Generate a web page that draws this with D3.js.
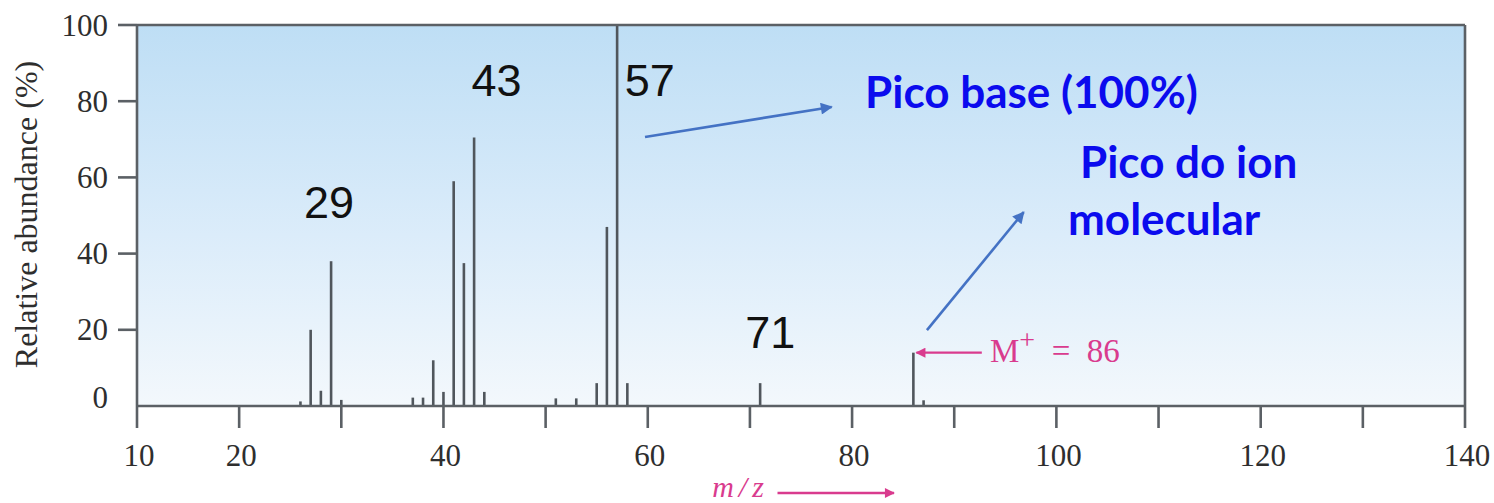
<!DOCTYPE html>
<html>
<head>
<meta charset="utf-8">
<script src="https://cdn.jsdelivr.net/npm/d3@7"></script>
<style>
body { margin: 0; background: #fff; }
</style>
</head>
<body>
<script>
// spectrum peaks (m/z and relative abundance in %)
var mz        = [26, 27, 28, 29, 30, 37, 38, 39, 40, 41, 42, 43, 44, 51, 53, 55, 56, 57, 58, 71, 86, 87];
var abundance = [1.2, 20, 4, 38, 1.6, 2.2, 2.2, 12, 3.7, 59, 37.5, 70.5, 3.7, 2, 2, 6, 47, 100, 6, 6, 14, 1.5];

// axis ticks
var xTicks  = d3.range(10, 141, 10);
var xLabels = [10, 20, 40, 60, 80, 100, 120, 140];
var yTicks  = [0, 20, 40, 60, 80, 100];

// peak number labels (placed in data units)
var peakText = ["29", "43", "57", "71"];
var peakX    = [28.8, 45.2, 60.2, 72.0];
var peakY    = [49.3, 81.4, 81.4, 15.2];

var width = 1494, height = 503;
var margin = {top: 25, right: 29, bottom: 97, left: 137};

var svg = d3.select("body").append("svg")
    .attr("width", width)
    .attr("height", height);

var x = d3.scaleLinear()
    .domain([10, 140])
    .range([margin.left, width - margin.right]);

var y = d3.scaleLinear()
    .domain([0, 100])
    .range([height - margin.bottom, margin.top]);

var axisCol = "#5b6065";
var pink = "#d93b8e";
var blue = "#4472c4";

// background gradient
var defs = svg.append("defs");
var grad = defs.append("linearGradient")
    .attr("id", "bg")
    .attr("x1", 0).attr("y1", 0).attr("x2", 0).attr("y2", 1);
grad.append("stop").attr("offset", "0%").attr("stop-color", "#bedef5");
grad.append("stop").attr("offset", "55%").attr("stop-color", "#dbecfa");
grad.append("stop").attr("offset", "100%").attr("stop-color", "#f3f8fc");

function marker(id, col, w, h) {
    defs.append("marker")
        .attr("id", id)
        .attr("viewBox", "0 0 10 10")
        .attr("refX", 9).attr("refY", 5)
        .attr("markerWidth", w).attr("markerHeight", h)
        .attr("markerUnits", "userSpaceOnUse")
        .attr("orient", "auto")
        .append("path")
        .attr("d", "M0,0 L10,5 L0,10 z")
        .attr("fill", col);
}
marker("arrBlue", blue, 15, 12);
marker("arrPink", pink, 11, 10);

svg.append("rect")
    .attr("x", x(10))
    .attr("y", y(100))
    .attr("width", x(140) - x(10))
    .attr("height", y(0) - y(100))
    .attr("fill", "url(#bg)");

// bars
svg.selectAll(".bar")
    .data(mz)
    .enter().append("line")
    .attr("class", "bar")
    .attr("x1", function (d) { return x(d); })
    .attr("x2", function (d) { return x(d); })
    .attr("y1", y(0))
    .attr("y2", function (d, i) { return y(abundance[i]); })
    .attr("stroke", "#50565c")
    .attr("stroke-width", 2.6);

// frame
var frame = svg.append("g")
    .attr("stroke", axisCol)
    .attr("stroke-width", 2.6)
    .attr("fill", "none");
frame.append("line").attr("x1", x(10)).attr("x2", x(140)).attr("y1", y(100)).attr("y2", y(100));
frame.append("line").attr("x1", x(140)).attr("x2", x(140)).attr("y1", y(100)).attr("y2", y(0));
frame.append("line").attr("x1", x(10)).attr("x2", x(10)).attr("y1", y(100)).attr("y2", y(0));
frame.append("line").attr("x1", x(10)).attr("x2", x(140)).attr("y1", y(0)).attr("y2", y(0));

// x axis ticks
svg.selectAll(".xtick")
    .data(xTicks)
    .enter().append("line")
    .attr("class", "xtick")
    .attr("x1", function (d) { return x(d); })
    .attr("x2", function (d) { return x(d); })
    .attr("y1", y(0))
    .attr("y2", y(0) + 22)
    .attr("stroke", axisCol)
    .attr("stroke-width", 2.6);

svg.selectAll(".xlab")
    .data(xLabels)
    .enter().append("text")
    .attr("class", "xlab")
    .attr("x", function (d) { return x(d) + 2; })
    .attr("y", y(0) + 60)
    .attr("text-anchor", "middle")
    .attr("font-family", "Liberation Serif, serif")
    .attr("font-size", 31)
    .attr("fill", "#2e2e2e")
    .text(function (d) { return d; });

// y axis ticks
svg.selectAll(".ytick")
    .data(yTicks.filter(function (d) { return d > 0; }))
    .enter().append("line")
    .attr("class", "ytick")
    .attr("x1", x(10) - 19)
    .attr("x2", x(10))
    .attr("y1", function (d) { return y(d); })
    .attr("y2", function (d) { return y(d); })
    .attr("stroke", axisCol)
    .attr("stroke-width", 2.6);

svg.selectAll(".ylab")
    .data(yTicks)
    .enter().append("text")
    .attr("class", "ylab")
    .attr("x", x(10) - 29)
    .attr("y", function (d) { return y(d) - (d === 0 ? 9 : 0); })
    .attr("dy", "0.34em")
    .attr("text-anchor", "end")
    .attr("font-family", "Liberation Serif, serif")
    .attr("font-size", 31)
    .attr("fill", "#2e2e2e")
    .text(function (d) { return d; });

svg.append("text")
    .attr("transform", "translate(37," + (y(50) - 1) + ") rotate(-90)")
    .attr("text-anchor", "middle")
    .attr("font-family", "Liberation Serif, serif")
    .attr("font-size", 32)
    .attr("fill", "#2e2e2e")
    .text("Relative abundance (%)");

// m/z label
svg.append("text")
    .attr("x", x(66.3))
    .attr("y", height - 6)
    .attr("font-family", "Liberation Serif, serif")
    .attr("font-style", "italic")
    .attr("font-size", 30)
    .attr("fill", pink)
    .attr("letter-spacing", 5)
    .text("m/z");
svg.append("line")
    .attr("x1", x(72.7)).attr("x2", x(84.1))
    .attr("y1", height - 10).attr("y2", height - 10)
    .attr("stroke", pink)
    .attr("stroke-width", 2.4)
    .attr("marker-end", "url(#arrPink)");

// peak labels
svg.selectAll(".peak")
    .data(peakText)
    .enter().append("text")
    .attr("class", "peak")
    .attr("x", function (d, i) { return x(peakX[i]); })
    .attr("y", function (d, i) { return y(peakY[i]); })
    .attr("text-anchor", "middle")
    .attr("font-family", "Liberation Sans, Arial, sans-serif")
    .attr("font-size", 45)
    .attr("fill", "#111")
    .text(function (d) { return d; });

// M+ annotation
svg.append("line")
    .attr("x1", x(92.7)).attr("x2", x(86.3))
    .attr("y1", y(14)).attr("y2", y(14))
    .attr("stroke", pink)
    .attr("stroke-width", 2.4)
    .attr("marker-end", "url(#arrPink)");
var mp = svg.append("text")
    .attr("x", x(93.5))
    .attr("y", y(11.5))
    .attr("font-family", "Liberation Serif, serif")
    .attr("font-size", 33)
    .attr("fill", pink);
mp.append("tspan").text("M");
mp.append("tspan").attr("dy", -13).attr("font-size", 28).text("+");
mp.append("tspan").attr("dy", 13).attr("xml:space", "preserve").text("  =  86");

// blue annotations
svg.append("line")
    .attr("x1", x(59.73)).attr("y1", y(70.6))
    .attr("x2", x(78.0)).attr("y2", y(78.5))
    .attr("stroke", blue)
    .attr("stroke-width", 2.6)
    .attr("marker-end", "url(#arrBlue)");
svg.append("line")
    .attr("x1", x(87.33)).attr("y1", y(19.9))
    .attr("x2", x(96.8)).attr("y2", y(50.9))
    .attr("stroke", blue)
    .attr("stroke-width", 2.6)
    .attr("marker-end", "url(#arrBlue)");

var notes = [
    {text: "Pico base (100%)", m: 81.27, v: 78.2},
    {text: "Pico do ion", m: 102.31, v: 59.8},
    {text: "molecular", m: 101.14, v: 44.9}
];
svg.selectAll(".note")
    .data(notes)
    .enter().append("text")
    .attr("class", "note")
    .attr("x", function (d) { return x(d.m); })
    .attr("y", function (d) { return y(d.v); })
    .attr("font-family", "Lato, sans-serif")
    .attr("font-weight", "bold")
    .attr("font-size", 44)
    .attr("fill", "#0b0bee")
    .text(function (d) { return d.text; });
</script>
</body>
</html>
